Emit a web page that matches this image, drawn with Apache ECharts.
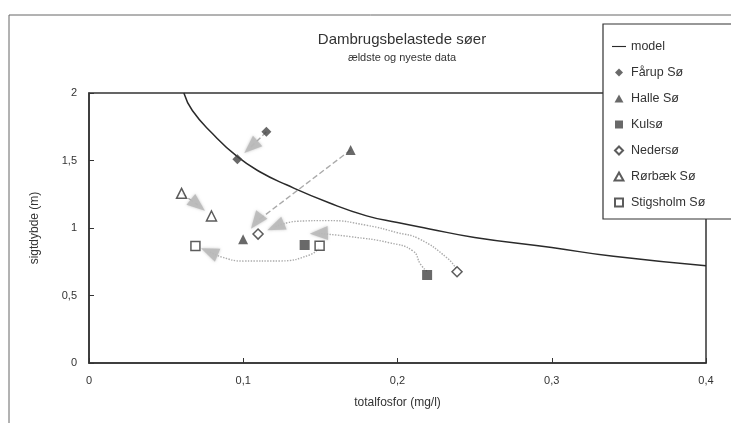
<!DOCTYPE html>
<html><head><meta charset="utf-8">
<script src="https://cdn.jsdelivr.net/npm/echarts@6/dist/echarts.min.js"></script>
<style>html,body{margin:0;padding:0;background:#fff}#c{width:731px;height:423px}</style>
</head><body><div id="c"></div>
<script>
// ---- data ----
const titleText = 'Dambrugsbelastede søer';
const subtitleText = 'ældste og nyeste data';
const xName = 'totalfosfor (mg/l)';
const yName = 'sigtdybde (m)';
const xTicks = [0, 0.1, 0.2, 0.3, 0.4];
const yTicks = [0, 0.5, 1, 1.5, 2];
const legendNames = ['model', 'Fårup Sø', 'Halle Sø', 'Kulsø', 'Nedersø', 'Rørbæk Sø', 'Stigsholm Sø'];

const modelCurve = [[0.0615,2],[0.067,1.87],[0.08,1.70],[0.096,1.53],[0.111,1.415],[0.128,1.32],
  [0.156,1.185],[0.18,1.09],[0.2,1.04],[0.22,0.995],[0.25,0.93],[0.3,0.855],[0.34,0.79],[0.4,0.72]];

const faarup    = [[0.115,1.713],[0.0962,1.509]];
const halle     = [[0.1696,1.578],[0.0999,0.916]];
const kulso     = [[0.1398,0.874],[0.2192,0.652]];
const nederso   = [[0.1096,0.955],[0.2386,0.676]];
const rorbaek   = [[0.060,1.257],[0.0794,1.089]];
const stigsholm = [[0.069,0.867],[0.1495,0.869]];

// arrows: path (ends at arrow head) and the point the head points to
const arrowFaarupPath    = [[0.115,1.713],[0.105,1.60]];
const arrowHallePath     = [[0.1696,1.578],[0.1085,1.047]];
const arrowRorbaekPath   = [[0.060,1.257],[0.0706,1.17]];
const arrowNedersoPath   = [[0.238,0.70],[0.232,0.78],[0.214,0.92],[0.20,0.965],[0.18,1.02],[0.155,1.055],[0.135,1.05],[0.121,1.01]];
const arrowKulsoPath     = [[0.219,0.68],[0.215,0.73],[0.21,0.83],[0.195,0.89],[0.17,0.935],[0.149,0.96]];
const arrowStigsholmPath = [[0.149,0.85],[0.143,0.80],[0.124,0.756],[0.10,0.755],[0.086,0.785],[0.078,0.824]];
const arrowTargets = {
  faarup: faarup[1], halle: halle[1], rorbaek: rorbaek[1],
  nederso: nederso[0], kulso: [0.138,0.955], stigsholm: stigsholm[0]
};

// ---- chart ----
const FONT = 'Liberation Sans';
const chart = echarts.init(document.getElementById('c'), null, {renderer: 'canvas'});
const fmt = v => String(v).replace('.', ',');
const arrows = [
  {path: arrowFaarupPath, target: arrowTargets.faarup, type: 'dashed'},
  {path: arrowHallePath, target: arrowTargets.halle, type: 'dashed'},
  {path: arrowRorbaekPath, target: arrowTargets.rorbaek, type: 'dashed'},
  {path: arrowNedersoPath, target: arrowTargets.nederso, type: 'dotted'},
  {path: arrowKulsoPath, target: arrowTargets.kulso, type: 'dotted'},
  {path: arrowStigsholmPath, target: arrowTargets.stigsholm, type: 'dotted'}
];
const icons = {
  line: 'path://M0,0h20v1.6h-20z',
  diamond: 'path://M5,0L10,5L5,10L0,5z',
  triangle: 'path://M5,0L10,9L0,9z',
  square: 'path://M0,0h10v10h-10z'
};
const legendIcons = [icons.line, icons.diamond, icons.triangle, icons.square, icons.diamond, icons.triangle, icons.square];

function build(rotations) {
  const series = [];
  arrows.forEach((a) => {
    series.push({
      type: 'line', data: a.path, smooth: a.type === 'dotted' ? 0.5 : false,
      symbol: 'none', silent: true, z: 1,
      lineStyle: {color: '#aaaaaa', width: 1.4, type: a.type}
    });
  });
  series.push({
    type: 'scatter', silent: true, z: 2,
    data: arrows.map((a, i) => ({value: a.path[a.path.length - 1], symbolRotate: rotations ? rotations[i] : 0})),
    symbol: 'triangle', symbolSize: [14, 18],
    itemStyle: {color: '#bababa', opacity: 0.9, shadowBlur: 3, shadowColor: 'rgba(150,150,150,0.6)'}
  });
  series.push({
    name: 'model', type: 'line', data: modelCurve, smooth: true, symbol: 'none', z: 3,
    lineStyle: {color: '#2a2a2a', width: 1.5}, itemStyle: {color: '#2a2a2a'}
  });
  const filled = c => ({color: c});
  const hollow = {color: '#fff', borderColor: '#333', borderWidth: 1.5};
  series.push({name: 'Fårup Sø', type: 'scatter', data: faarup, symbol: 'diamond', symbolSize: 10, z: 4, itemStyle: filled('#444')});
  series.push({name: 'Halle Sø', type: 'scatter', data: halle, symbol: 'triangle', symbolSize: 10, z: 4, itemStyle: filled('#444')});
  series.push({name: 'Kulsø', type: 'scatter', data: kulso, symbol: 'rect', symbolSize: 10, z: 4, itemStyle: filled('#444')});
  series.push({name: 'Nedersø', type: 'scatter', data: nederso, symbol: 'diamond', symbolSize: 10, z: 4, itemStyle: hollow});
  series.push({name: 'Rørbæk Sø', type: 'scatter', data: rorbaek, symbol: 'triangle', symbolSize: 10, z: 4, itemStyle: hollow});
  series.push({name: 'Stigsholm Sø', type: 'scatter', data: stigsholm, symbol: 'rect', symbolSize: 9, z: 4, itemStyle: hollow});

  return {
    animation: false,
    backgroundColor: '#fff',
    textStyle: {fontFamily: FONT},
    title: {
      text: titleText, subtext: subtitleText, left: 397, top: 27, textAlign: 'center', itemGap: 5,
      textStyle: {fontFamily: FONT, fontSize: 15, fontWeight: 'normal', color: '#333'},
      subtextStyle: {fontFamily: FONT, fontSize: 11, color: '#333'}
    },
    graphic: [
      {type: 'rect', shape: {x: 9, y: 15, width: 800, height: 500}, style: {fill: 'none', stroke: '#666', lineWidth: 1}, z: 0},
      {type: 'rect', shape: {x: 603, y: 24, width: 200, height: 195}, style: {fill: '#fff', stroke: '#333', lineWidth: 1.2}, z: 50}
    ],
    legend: {
      orient: 'vertical', left: 607, top: 35, itemGap: 13, itemWidth: 14, itemHeight: 8, z: 60,
      symbolKeepAspect: true,
      data: legendNames.map((n, i) => ({name: n, icon: legendIcons[i]})),
      textStyle: {fontFamily: FONT, fontSize: 12.5, color: '#333'}
    },
    grid: {left: 89, right: 25, top: 93, bottom: 60, show: true, borderColor: '#333', borderWidth: 1.5},
    xAxis: {
      type: 'value', min: xTicks[0], max: xTicks[xTicks.length - 1], interval: 0.1,
      name: xName, nameLocation: 'middle', nameGap: 34,
      nameTextStyle: {fontFamily: FONT, fontSize: 12, color: '#333'},
      axisLine: {lineStyle: {color: '#333', width: 1.5}},
      axisTick: {inside: true, length: 5, lineStyle: {color: '#333'}},
      axisLabel: {formatter: fmt, fontFamily: FONT, fontSize: 11, color: '#333', margin: 12},
      splitLine: {show: false}
    },
    yAxis: {
      type: 'value', min: yTicks[0], max: yTicks[yTicks.length - 1], interval: 0.5,
      name: yName, nameLocation: 'middle', nameGap: 48,
      nameTextStyle: {fontFamily: FONT, fontSize: 12, color: '#333'},
      axisLine: {lineStyle: {color: '#333', width: 1.5}},
      axisTick: {inside: true, length: 5, lineStyle: {color: '#333'}},
      axisLabel: {formatter: fmt, fontFamily: FONT, fontSize: 11, color: '#333', margin: 12},
      splitLine: {show: false}
    },
    series
  };
}

chart.setOption(build(null));
const rotations = arrows.map(a => {
  const h = chart.convertToPixel({gridIndex: 0}, a.path[a.path.length - 1]);
  const t = chart.convertToPixel({gridIndex: 0}, a.target);
  const ang = Math.atan2(-(t[1] - h[1]), t[0] - h[0]) * 180 / Math.PI;
  return ang - 90;
});
chart.setOption(build(rotations), true);
</script>
</body></html>
